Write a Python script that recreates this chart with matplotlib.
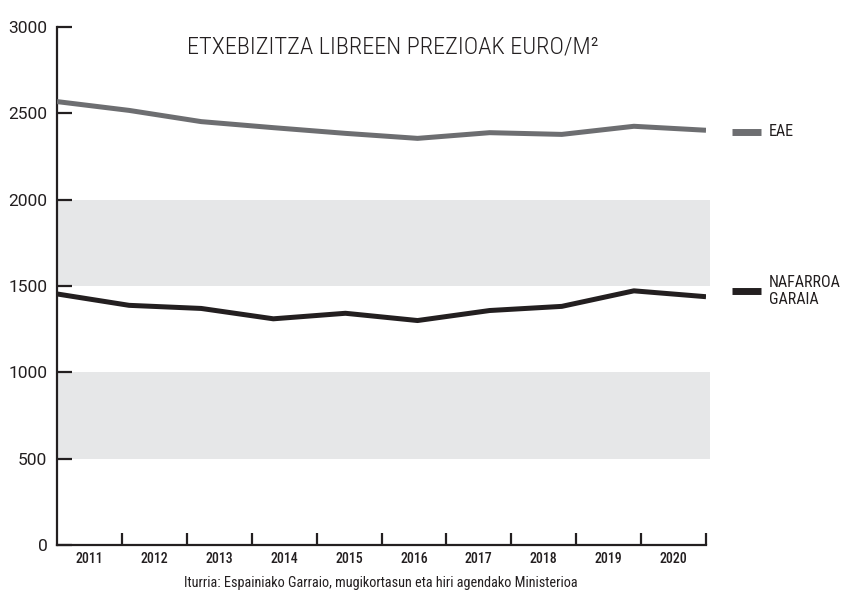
import matplotlib
matplotlib.use("Agg")
import matplotlib.pyplot as plt

years = ["2011", "2012", "2013", "2014", "2015", "2016", "2017", "2018", "2019", "2020"]
eae = [2568, 2517, 2452, 2417, 2384, 2355, 2388, 2378, 2425, 2402]
nafarroa = [1454, 1388, 1370, 1310, 1342, 1300, 1358, 1382, 1472, 1438]
series_names = ["EAE", "NAFARROA\nGARAIA"]
yticks = [0, 500, 1000, 1500, 2000, 2500, 3000]
bands = [(500, 1000), (1500, 2000)]
title = "ETXEBIZITZA LIBREEN PREZIOAK EURO/M²"
source = "Iturria: Espainiako Garraio, mugikortasun eta hiri agendako Ministerioa"

cond = ['Roboto Condensed', 'DejaVu Sans']
plt.rcParams['font.family'] = cond

dark = "#231f20"
grey = "#6d6e71"
band_col = "#e6e7e8"

fig = plt.figure(figsize=(8.5, 5.93), dpi=100)
ax = fig.add_axes([57/850, 1-545/593, (706-57)/850, (545-27)/593])

n = len(years)
span = n
xs = [i * span / (n - 1) for i in range(n)]

for lo, hi in bands:
    ax.fill_between([0, span + 0.06], lo, hi, color=band_col, lw=0, clip_on=False, zorder=0)

ax.plot(xs, eae, color=grey, lw=3.6, solid_capstyle='butt', zorder=3)
ax.plot(xs, nafarroa, color=dark, lw=3.6, solid_capstyle='butt', zorder=3)

ax.set_xlim(0, span)
ax.set_ylim(0, 3000)
for s in ["top", "right"]:
    ax.spines[s].set_visible(False)
for s in ["left", "bottom"]:
    ax.spines[s].set_color(dark)
    ax.spines[s].set_linewidth(1.6)

ax.set_yticks(yticks)
ax.set_yticklabels([str(v) for v in yticks], fontsize=12.5, color=dark, family=['Roboto', 'DejaVu Sans'])
ax.tick_params(axis='y', direction='in', length=11, width=1.6, color=dark, pad=7)

ax.set_xticks(range(1, span + 1))
ax.set_xticks([i + 0.5 for i in range(n)], minor=True)
ax.set_xticklabels([""] * span)
ax.set_xticklabels(years, minor=True, fontsize=10, color=dark, fontweight='medium')
ax.tick_params(axis='x', which='major', direction='in', length=9, width=1.6, color=dark)
ax.tick_params(axis='x', which='minor', length=0, pad=5)

fig.text(393/850, 1-47/593, title, ha='center', va='center', fontsize=17.6, color=dark, fontweight='light')
fig.text(381/850, 1-583/593, source, ha='center', va='center', fontsize=10.3, color=dark)

label_y = [2392, 1471]
for yv, col, name in zip(label_y, [grey, dark], series_names):
    ax.plot([span * 1.04, span * 1.085], [yv, yv], color=col, lw=5, solid_capstyle='butt', clip_on=False)
    ax.text(span * 1.097, yv, name, ha='left', va='center', fontsize=11.5, color=dark, linespacing=1.1)

fig.savefig("out.png", dpi=100)
